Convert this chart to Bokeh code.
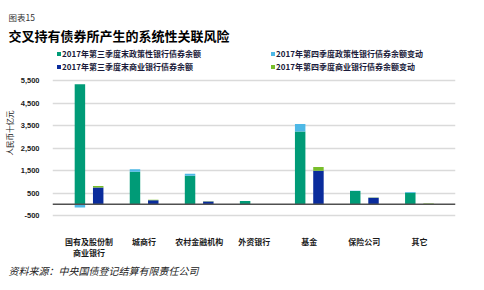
import numpy as np
from bokeh.plotting import figure
from bokeh.models import (Range1d, FixedTicker, NumeralTickFormatter, Span, Title,
                          Legend, LegendItem)
from bokeh.embed import file_html
from bokeh.resources import INLINE

# ---- data (RMB bn) ----
categories = ["国有及股份制\n商业银行", "城商行", "农村金融机构", "外资银行", "基金", "保险公司", "其它"]
policy_q3 = [5330, 1450, 1270, 145, 3230, 590, 515]          # 2017Q3 policy bank bond balance
policy_q4_change = [-140, 110, 90, 5, 340, 10, 30]            # 2017Q4 change
commercial_q3 = [740, 180, 120, 0, 1490, 290, 10]             # 2017Q3 commercial bank bond balance
commercial_q4_change = [70, 15, 10, 0, 165, 5, 20]            # 2017Q4 change
y_ticks = [-500, 500, 1500, 2500, 3500, 4500, 5500]

series_names = ["2017年第三季度末政策性银行债券余额", "2017年第四季度政策性银行债券余额变动",
                "2017年第三季度末商业银行债券余额", "2017年第四季度商业银行债券余额变动"]
colors = ["#009B77", "#4DB8E6", "#0A2C9C", "#78BE2A"]

CJK = "Noto Sans CJK SC"

x = np.arange(len(categories))
pq3 = np.array(policy_q3, float)
pch = np.array(policy_q4_change, float)
cq3 = np.array(commercial_q3, float)
cch = np.array(commercial_q4_change, float)

TOP = 45          # canvas y of frame top (legend lives inside the frame's empty top part)
BOTTOM = 70       # space under the frame
PX = 0.0225       # px per unit
y_end = 5500 + (80 - TOP) / PX
y_start = -500 - (290 - BOTTOM - 215) / PX

p = figure(width=484, height=290, output_backend="svg", toolbar_location=None,
           x_range=Range1d(-0.664, 6.655), y_range=Range1d(y_start, y_end),
           min_border_left=47, min_border_right=29, min_border_top=TOP, min_border_bottom=BOTTOM)
p.outline_line_color = None
p.background_fill_color = "white"

off = 0.166
w = 0.19
r1 = p.vbar(x=x - off, bottom=0, top=pq3, width=w, fill_color=colors[0], line_color=None)
r2 = p.vbar(x=x - off, bottom=np.where(pch >= 0, pq3, 0), top=np.where(pch >= 0, pq3 + pch, pch),
            width=w, fill_color=colors[1], line_color=None)
r3 = p.vbar(x=x + off, bottom=0, top=cq3, width=w, fill_color=colors[2], line_color=None)
r4 = p.vbar(x=x + off, bottom=np.where(cch >= 0, cq3, 0), top=np.where(cch >= 0, cq3 + cch, cch),
            width=w, fill_color=colors[3], line_color=None)

p.add_layout(Span(location=0, dimension="width", line_color="#505050", line_width=1.5))

# axes
p.xaxis.ticker = FixedTicker(ticks=list(range(len(categories))))
p.xaxis.major_label_overrides = {i: c for i, c in enumerate(categories)}
p.xaxis.axis_line_color = None
p.xaxis.major_tick_line_color = None
p.xaxis.minor_tick_line_color = None
p.xaxis.major_label_standoff = 9
p.xaxis.major_label_text_font = CJK
p.xaxis.major_label_text_font_size = "8px"
p.xaxis.major_label_text_font_style = "bold"
p.xaxis.major_label_text_color = "#1a1a1a"
p.xaxis.major_label_text_line_height = 1.0

p.yaxis.ticker = FixedTicker(ticks=y_ticks)
p.yaxis.formatter = NumeralTickFormatter(format="0,0")
p.yaxis.axis_line_color = None
p.yaxis.major_tick_line_color = None
p.yaxis.minor_tick_line_color = None
p.yaxis.major_label_standoff = 7
p.yaxis.major_label_text_font = "Liberation Sans"
p.yaxis.major_label_text_font_size = "7.5px"
p.yaxis.major_label_text_font_style = "bold"
p.yaxis.major_label_text_color = "#1a1a1a"
p.yaxis.axis_label = "人民币十亿元"
p.yaxis.axis_label_text_font = CJK
p.yaxis.axis_label_text_font_size = "7.5px"
p.yaxis.axis_label_text_font_style = "normal"
p.yaxis.axis_label_text_color = "#1a1a1a"
p.yaxis.axis_label_standoff = 3

p.xgrid.grid_line_color = None
p.ygrid.grid_line_color = "#DADADA"
p.ygrid.grid_line_width = 1.5

# legends (two columns) in the empty top part of the frame
LEG_BOTTOM = 290 - BOTTOM - 72
def mk_legend(items, vx):
    return Legend(items=items, location=(vx, LEG_BOTTOM), orientation="vertical",
                  label_text_font=CJK, label_text_font_size="8px", label_text_font_style="bold",
                  label_text_color="#1a1a3a", glyph_width=5, glyph_height=5, label_height=10,
                  label_standoff=1, spacing=2, padding=0, margin=0,
                  border_line_color=None, background_fill_alpha=0)

p.add_layout(mk_legend([LegendItem(label=series_names[0], renderers=[r1]),
                        LegendItem(label=series_names[2], renderers=[r3])], 4))
p.add_layout(mk_legend([LegendItem(label=series_names[1], renderers=[r2]),
                        LegendItem(label=series_names[3], renderers=[r4])], 218))

p.add_layout(Title(text="交叉持有债券所产生的系统性关联风险", align="left", offset=-44,
                   text_font=CJK, text_font_size="13px", text_font_style="bold",
                   text_color="#000000", standoff=2), "above")
p.add_layout(Title(text="图表15", align="left", offset=-44,
                   text_font=CJK, text_font_size="8.5px", text_font_style="normal",
                   text_color="#333333", standoff=0), "above")

p.add_layout(Title(text="资料来源：中央国债登记结算有限责任公司", align="left", offset=-44,
                   text_font=CJK, text_font_size="10px", text_font_style="italic",
                   text_color="#222222", standoff=0), "below")

open("out.html", "w").write(file_html(p, INLINE))
